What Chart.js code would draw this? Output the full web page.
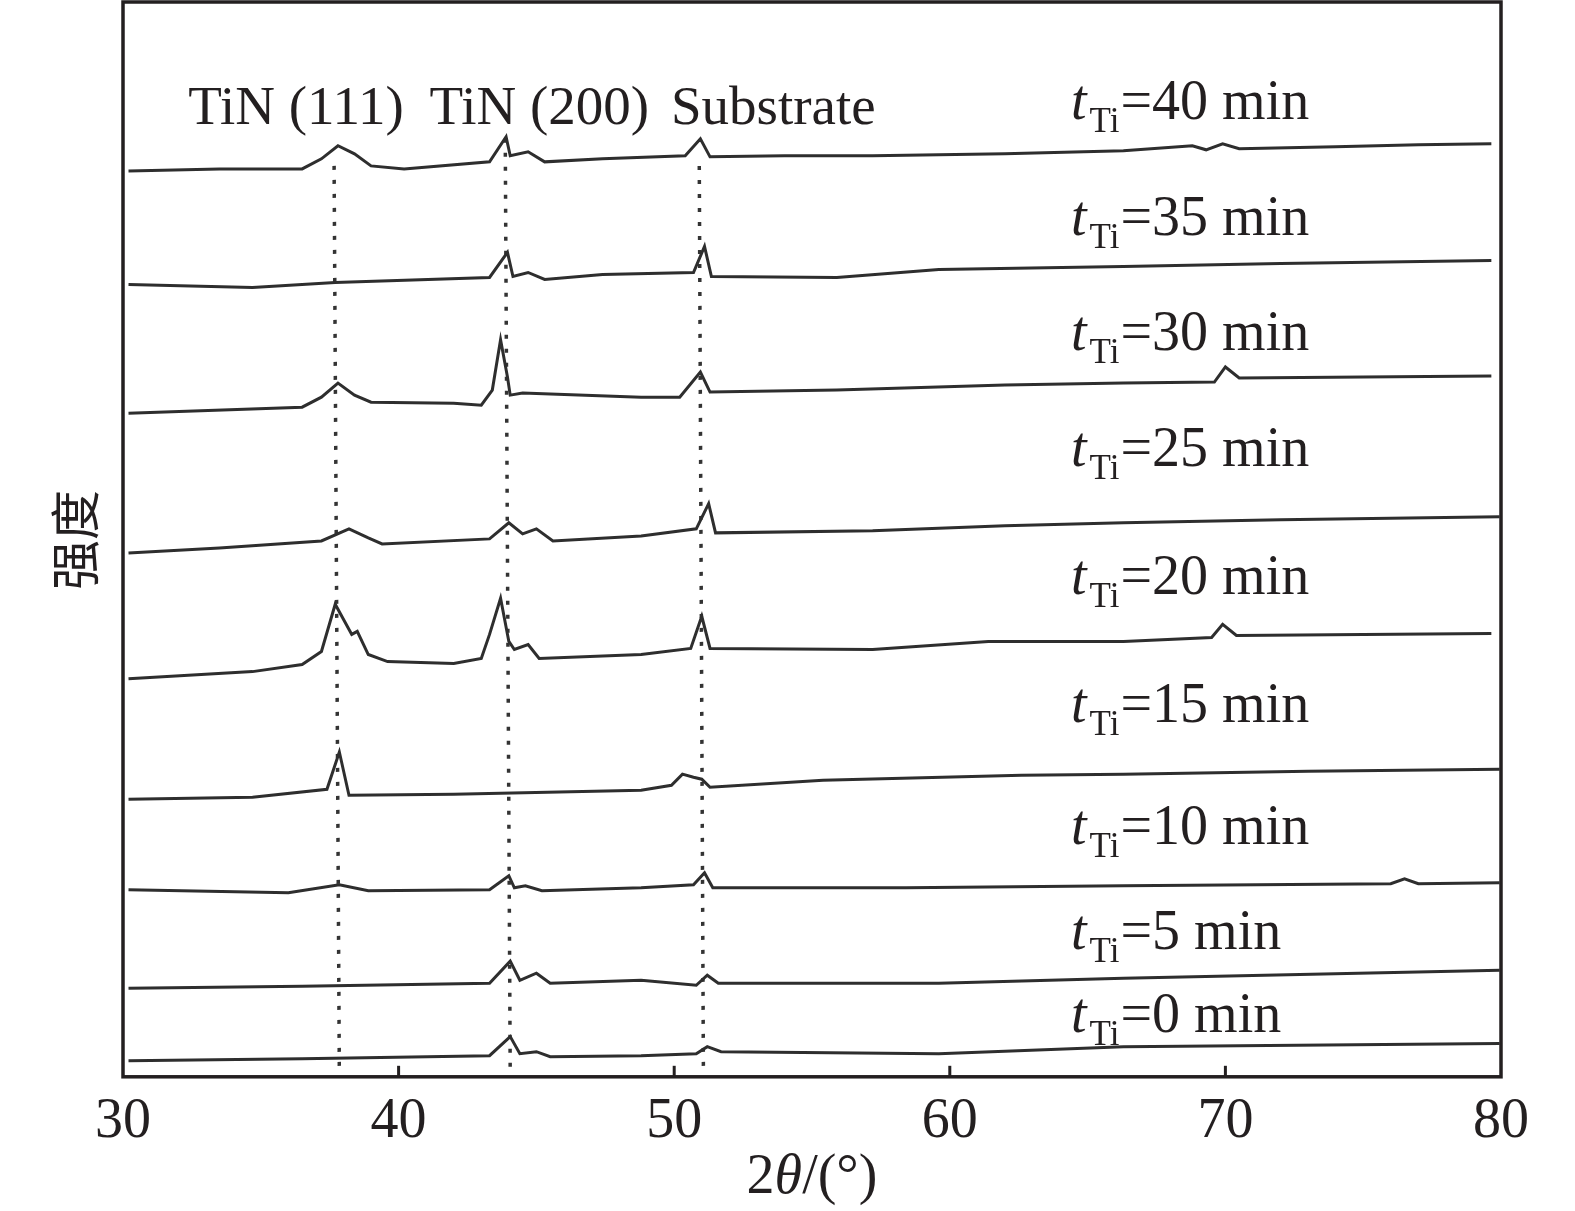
<!DOCTYPE html>
<html>
<head>
<meta charset="utf-8">
<script src="https://cdn.jsdelivr.net/npm/chart.js@4.4.1/dist/chart.umd.min.js"></script>
<style>
  html, body { margin: 0; padding: 0; background: #fff; }
  #wrap { width: 1575px; height: 1211px; }
</style>
</head>
<body>
<div id="wrap"><canvas id="xrdChart" width="1575" height="1211"></canvas></div>
<script>
// XRD patterns for different Ti deposition times, traces stacked with an offset
const xTicks = [30, 40, 50, 60, 70, 80];
const timeLabels = ["40", "35", "30", "25", "20", "15", "10", "5", "0"];
const peakLabels = ["TiN (111)", "TiN (200)", "Substrate"];

// [2θ, intensity (a.u., offset included)]
const trace40 = [[30.2, 901], [33.5, 903], [36.5, 903], [37.2, 913], [37.8, 926], [38.4, 918], [39.0, 906],
  [40.2, 903], [43.3, 910], [43.9, 935], [44.05, 916], [44.7, 920], [45.3, 910], [47.4, 913], [50.4, 916],
  [50.95, 933], [51.3, 915], [54.0, 916], [57.2, 916], [62.0, 918], [66.3, 921], [68.8, 926], [69.3, 922],
  [69.9, 928], [70.5, 923], [74.0, 925], [77.0, 927], [79.65, 928]];
const trace35 = [[30.2, 788], [34.7, 785], [37.7, 790], [43.3, 795], [43.95, 820], [44.15, 796], [44.7, 800],
  [45.3, 793], [47.4, 798], [50.7, 800], [51.1, 826], [51.35, 796], [55.9, 795], [59.6, 803], [66.3, 806],
  [72.0, 809], [79.65, 812]];
const trace30 = [[30.2, 660], [36.5, 666], [37.2, 676], [37.8, 690], [38.4, 678], [39.0, 671], [42.0, 670],
  [43.0, 668], [43.4, 683], [43.7, 733], [43.95, 696], [44.05, 678], [44.5, 680], [48.8, 676], [50.2, 676],
  [50.95, 701], [51.3, 681], [55.9, 683], [62.0, 688], [66.3, 690], [69.6, 691], [70.0, 706], [70.5, 695],
  [75.0, 696], [79.65, 697]];
const trace25 = [[30.2, 521], [33.5, 526], [37.2, 533], [38.2, 545], [38.9, 536], [39.4, 530], [43.3, 535],
  [44.0, 551], [44.5, 540], [45.0, 545], [45.6, 533], [48.8, 538], [50.8, 545], [51.25, 570], [51.5, 541],
  [57.2, 543], [62.0, 548], [66.3, 551], [72.0, 554], [79.95, 557]];
const trace20 = [[30.2, 396], [34.7, 403], [36.5, 410], [37.2, 423], [37.7, 470], [38.3, 440], [38.5, 443],
  [38.9, 420], [39.6, 413], [42.0, 411], [43.0, 416], [43.3, 440], [43.7, 476], [44.0, 433], [44.2, 425],
  [44.7, 430], [45.1, 416], [48.8, 420], [50.6, 426], [51.0, 458], [51.3, 426], [57.2, 425], [61.4, 433],
  [66.3, 433], [69.5, 437], [69.9, 450], [70.4, 439], [75.0, 440], [79.65, 441]];
const trace15 = [[30.2, 276], [34.7, 278], [37.4, 286], [37.85, 323], [38.2, 280], [42.0, 281], [48.8, 285],
  [49.9, 290], [50.3, 301], [50.7, 298], [51.0, 296], [51.3, 288], [55.4, 295], [62.6, 300], [66.3, 301],
  [73.0, 304], [79.95, 306]];
const trace10 = [[30.2, 186], [36.0, 183], [37.85, 191], [38.9, 185], [43.3, 186], [44.0, 200], [44.2, 188],
  [44.6, 190], [45.2, 185], [48.8, 188], [50.7, 191], [51.1, 203], [51.4, 188], [58.4, 188], [66.3, 190],
  [76.0, 192], [76.5, 197], [77.0, 192], [79.95, 193]];
const trace5 = [[30.2, 88], [36.5, 90], [43.3, 93], [44.05, 115], [44.4, 96], [45.0, 103], [45.5, 93],
  [48.8, 96], [50.8, 91], [51.2, 101], [51.6, 93], [59.6, 93], [66.3, 98], [79.95, 106]];
const trace0 = [[30.2, 16], [36.5, 18], [43.3, 21], [44.05, 40], [44.4, 23], [45.0, 25], [45.5, 20],
  [48.8, 21], [50.8, 23], [51.2, 30], [51.7, 25], [59.6, 23], [66.3, 30], [79.95, 33]];

// dotted guide lines through the peaks, [top, bottom]
const refTiN111 = [[37.66, 906], [37.85, 3]];
const refTiN200 = [[43.87, 933], [44.05, 3]];
const refSubstrate = [[50.91, 906], [51.06, 3]];

const traces = [trace40, trace35, trace30, trace25, trace20, trace15, trace10, trace5, trace0];
const refLines = [refTiN111, refTiN200, refSubstrate];

// where the texts sit (2θ for x, intensity units for y)
const peakLabelX = [32.37, 41.12, 49.88];
const peakLabelY = 948;
const timeLabelX = 64.4;
const timeLabelY = [953, 837, 723, 608, 480, 353, 232, 127, 45];

const ink = "#231f20";
const serif = '"Liberation Serif", "Times New Roman", serif';

const toPoints = (arr) => arr.map(([x, y]) => ({ x: x, y: y }));

const datasets = traces.map((t, i) => ({
  label: "t=" + timeLabels[i] + " min",
  data: toPoints(t),
  borderColor: "#2e2e2e",
  borderWidth: 3,
  pointRadius: 0,
  tension: 0,
  fill: false,
}));
refLines.forEach((r, i) => {
  datasets.push({
    label: peakLabels[i],
    data: toPoints(r),
    borderColor: "#333",
    borderWidth: 3.5,
    borderDash: [4, 10],
    borderCapStyle: "butt",
    pointRadius: 0,
    fill: false,
  });
});

// box around the plot and inward ticks at the bottom
const framePlugin = {
  id: "frame",
  afterDraw(chart) {
    const { ctx, chartArea: a, scales: { x } } = chart;
    ctx.save();
    ctx.strokeStyle = ink;
    ctx.lineWidth = 3.5;
    ctx.strokeRect(a.left, a.top, a.right - a.left, a.bottom - a.top);
    ctx.lineWidth = 3;
    xTicks.slice(1, -1).forEach((v) => {
      const px = x.getPixelForValue(v);
      ctx.beginPath();
      ctx.moveTo(px, a.bottom);
      ctx.lineTo(px, a.bottom - 11);
      ctx.stroke();
    });
    ctx.restore();
  },
};

// peak names, time labels and axis titles
const textPlugin = {
  id: "texts",
  afterDraw(chart) {
    const { ctx, scales: { x, y } } = chart;
    ctx.save();
    ctx.fillStyle = ink;
    ctx.textBaseline = "alphabetic";
    ctx.textAlign = "left";

    ctx.font = "55px " + serif;
    peakLabels.forEach((t, i) => {
      ctx.fillText(t, x.getPixelForValue(peakLabelX[i]), y.getPixelForValue(peakLabelY));
    });

    timeLabels.forEach((t, i) => {
      let px = x.getPixelForValue(timeLabelX);
      const py = y.getPixelForValue(timeLabelY[i]);
      ctx.font = "italic 56px " + serif;
      ctx.fillText("t", px, py);
      px += ctx.measureText("t").width + 3;
      ctx.font = "35px " + serif;
      ctx.fillText("Ti", px, py + 13);
      px += ctx.measureText("Ti").width + 1;
      ctx.font = "56px " + serif;
      ctx.fillText("=" + t + " min", px, py);
    });

    // x title: 2θ/(°)
    const parts = [["2", "56px "], ["θ", "italic 56px "], ["/(°)", "56px "]];
    let total = 0;
    parts.forEach(([s, f]) => { ctx.font = f + serif; total += ctx.measureText(s).width; });
    let tx = (x.left + x.right) / 2 - total / 2;
    parts.forEach(([s, f]) => {
      ctx.font = f + serif;
      ctx.fillText(s, tx, 1193);
      tx += ctx.measureText(s).width;
    });

    // y title
    ctx.translate(75, 540);
    ctx.rotate(-Math.PI / 2);
    ctx.textAlign = "center";
    ctx.textBaseline = "middle";
    ctx.font = '50px "Noto Sans CJK SC"';
    ctx.fillText("强度", 0, 0);
    ctx.restore();
  },
};

const ctx = document.getElementById("xrdChart").getContext("2d");
const xrdChart = new Chart(ctx, {
  type: "line",
  data: { datasets: datasets },
  options: {
    responsive: false,
    animation: false,
    devicePixelRatio: 1,
    layout: { padding: { left: 123, right: 74, top: 2, bottom: 43 } },
    plugins: { legend: { display: false }, tooltip: { enabled: false } },
    scales: {
      x: {
        type: "linear",
        min: 30,
        max: 80,
        afterBuildTicks: (scale) => { scale.ticks = xTicks.map((v) => ({ value: v })); },
        ticks: { color: ink, padding: 12, maxRotation: 0, autoSkip: false, font: { family: serif, size: 56 } },
        grid: { display: false, drawTicks: false },
        border: { display: false },
      },
      y: { display: false, min: 0, max: 1069 },
    },
  },
  plugins: [framePlugin, textPlugin],
});
</script>
</body>
</html>
